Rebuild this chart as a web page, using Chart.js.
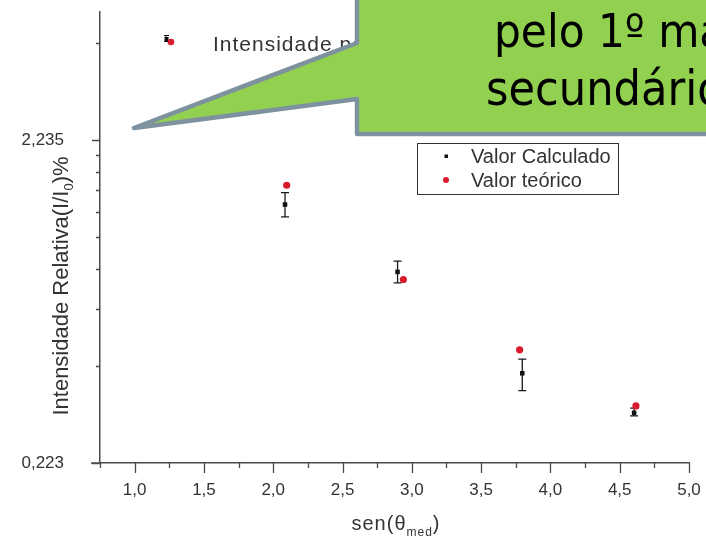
<!DOCTYPE html>
<html>
<head>
<meta charset="utf-8">
<script src="https://cdn.jsdelivr.net/npm/chart.js@4.4.1/dist/chart.umd.min.js"></script>
<style>
html,body{margin:0;padding:0;background:#fff;}
#wrap{position:relative;width:706px;height:542px;overflow:hidden;background:#fff;}
#c{position:absolute;left:0;top:0;}
#callout{position:absolute;left:0;top:0;pointer-events:none;}
</style>
</head>
<body>
<div id="wrap">
<canvas id="c" width="706" height="542"></canvas>
<svg id="callout" width="706" height="542" xmlns="http://www.w3.org/2000/svg">
  <polygon points="357,-10 357,43 134,128 357,99 357,134 730,134 730,-10" fill="#92D050" stroke="#7D929E" stroke-width="4.5" stroke-linejoin="round"/>
  <text x="494" y="47" font-family="'DejaVu Sans Condensed','DejaVu Sans',sans-serif" font-stretch="condensed" font-size="47" fill="#000">pelo 1º ma</text>
  <text x="486" y="105" font-family="'DejaVu Sans Condensed','DejaVu Sans',sans-serif" font-stretch="condensed" font-size="48" fill="#000">secundário</text>
</svg>
</div>
<script>
// ---- data ----
const seriesNames = ['Valor Calculado', 'Valor teórico'];
const calcX = [2.085, 2.897, 3.797, 4.604];
const calcY = [1.410, 0.872, 0.423, 0.319];
const calcErrLow = [1.291, 0.806, 0.374, 0.312];
const calcErrHigh = [1.536, 0.941, 0.468, 0.330];
const teoX = [2.097, 2.939, 3.778, 4.617];
const teoY = [1.618, 0.826, 0.500, 0.335];

const xMajorTicks = [1.0, 1.5, 2.0, 2.5, 3.0, 3.5, 4.0, 4.5, 5.0];
const xTickLabels = ['1,0', '1,5', '2,0', '2,5', '3,0', '3,5', '4,0', '4,5', '5,0'];
const xMinorTicks = [0.75, 1.25, 1.75, 2.25, 2.75, 3.25, 3.75, 4.25, 4.75];
const yMajorTicks = [0.223, 2.235];
const yTickLabels = ['0,223', '2,235'];
const yMinorTicks = [0.446, 0.669, 0.892, 1.115, 1.338, 1.561, 1.784, 2.007, 4.47];
const xRange = [0.75, 5.0];
const yRange = [0.223, 5.57];

const topLegendText = 'Intensidade pe';
const xTitle = ['sen(θ', 'med', ')'];
const yTitle = ['Intensidade Relativa(I/I', '0', ')%'];

const FONT = "'Liberation Sans', Arial, sans-serif";
const TXT = '#333';
const AX = '#4a4a4a';

function findLabel(list, labels, v) {
  for (let i = 0; i < list.length; i++) if (Math.abs(list[i] - v) < 1e-9) return labels[i];
  return '';
}
function zeroPad(s) { s.paddingTop = 0; s.paddingBottom = 0; s.paddingLeft = 0; s.paddingRight = 0; }

const decor = {
  id: 'decor',
  beforeDatasetsDraw(chart) {
    const ctx = chart.ctx, x = chart.scales.x, y = chart.scales.y;
    ctx.save();
    ctx.strokeStyle = '#1a1a1a';
    ctx.lineWidth = 1.3;
    for (let i = 0; i < calcX.length; i++) {
      const px = x.getPixelForValue(calcX[i]);
      const p1 = y.getPixelForValue(calcErrLow[i]);
      const p2 = y.getPixelForValue(calcErrHigh[i]);
      ctx.beginPath();
      ctx.moveTo(px, p1); ctx.lineTo(px, p2);
      ctx.moveTo(px - 4, p1); ctx.lineTo(px + 4, p1);
      ctx.moveTo(px - 4, p2); ctx.lineTo(px + 4, p2);
      ctx.stroke();
    }
    ctx.restore();
  },
  afterDraw(chart) {
    const ctx = chart.ctx, x = chart.scales.x, y = chart.scales.y;
    const ca = chart.chartArea;
    ctx.save();
    // tick marks
    ctx.strokeStyle = AX;
    ctx.lineWidth = 1.3;
    ctx.beginPath();
    xMajorTicks.forEach(v => { const p = Math.round(x.getPixelForValue(v)) + 0.5; ctx.moveTo(p, ca.bottom); ctx.lineTo(p, ca.bottom + 10); });
    xMinorTicks.forEach(v => { const p = Math.round(x.getPixelForValue(v)) + 0.5; ctx.moveTo(p, ca.bottom); ctx.lineTo(p, ca.bottom + 5); });
    yMajorTicks.forEach(v => { const p = Math.round(y.getPixelForValue(v)) + 0.5; ctx.moveTo(ca.left, p); ctx.lineTo(ca.left - 8, p); });
    yMinorTicks.forEach(v => { const p = Math.round(y.getPixelForValue(v)) + 0.5; ctx.moveTo(ca.left, p); ctx.lineTo(ca.left - 4, p); });
    // x axis extension to the left of the y axis
    ctx.moveTo(ca.left - 9, ca.bottom); ctx.lineTo(ca.left, ca.bottom);
    ctx.stroke();

    // legend box
    const ds0 = chart.data.datasets[0], ds1 = chart.data.datasets[1];
    ctx.strokeStyle = '#333';
    ctx.lineWidth = 1;
    ctx.strokeRect(417.5, 143.5, 201, 51);
    ctx.fillStyle = ds0.backgroundColor;
    ctx.fillRect(444.5, 154.5, 3.5, 3.5);
    ctx.fillStyle = ds1.backgroundColor;
    ctx.beginPath(); ctx.arc(446, 180, 3, 0, Math.PI * 2); ctx.fill();
    ctx.fillStyle = TXT;
    ctx.font = '20px ' + FONT;
    ctx.textAlign = 'left';
    ctx.textBaseline = 'middle';
    ctx.fillText(ds0.label, 471, 157);
    ctx.fillText(ds1.label, 471, 181);

    // top-left legend entry (partly hidden by the callout)
    ctx.strokeStyle = '#111';
    ctx.lineWidth = 1;
    ctx.beginPath();
    ctx.moveTo(166, 35); ctx.lineTo(166, 42);
    ctx.moveTo(164, 35.5); ctx.lineTo(169, 35.5);
    ctx.moveTo(164, 41.5); ctx.lineTo(169, 41.5);
    ctx.stroke();
    ctx.fillStyle = '#111';
    ctx.fillRect(164.5, 37, 4, 4);
    ctx.fillStyle = ds1.backgroundColor;
    ctx.beginPath(); ctx.arc(171, 42, 3.3, 0, Math.PI * 2); ctx.fill();
    ctx.fillStyle = TXT;
    ctx.font = '21px ' + FONT;
    try { ctx.letterSpacing = '1px'; } catch (e) {}
    ctx.fillText(topLegendText, 213, 45);

    // x axis title with subscript
    ctx.textBaseline = 'alphabetic';
    ctx.font = '20px ' + FONT;
    const big = 20, small = 12;
    const w0 = ctx.measureText(xTitle[0]).width;
    const w2 = ctx.measureText(xTitle[2]).width;
    ctx.font = small + 'px ' + FONT;
    const w1 = ctx.measureText(xTitle[1]).width;
    let sx = 396 - (w0 + w1 + w2) / 2;
    const by = 530;
    ctx.font = big + 'px ' + FONT;
    ctx.fillText(xTitle[0], sx, by); sx += w0;
    ctx.font = small + 'px ' + FONT;
    ctx.fillText(xTitle[1], sx, by + 6); sx += w1;
    ctx.font = big + 'px ' + FONT;
    ctx.fillText(xTitle[2], sx, by);

    // y axis title (rotated) with subscript
    try { ctx.letterSpacing = '0px'; } catch (e) {}
    ctx.translate(68, 286);
    ctx.rotate(-Math.PI / 2);
    ctx.font = '22px ' + FONT;
    const u0 = ctx.measureText(yTitle[0]).width;
    const u2 = ctx.measureText(yTitle[2]).width;
    ctx.font = '13px ' + FONT;
    const u1 = ctx.measureText(yTitle[1]).width;
    let tx = -(u0 + u1 + u2) / 2;
    ctx.font = '22px ' + FONT;
    ctx.fillText(yTitle[0], tx, 0); tx += u0;
    ctx.font = '13px ' + FONT;
    ctx.fillText(yTitle[1], tx, 5); tx += u1;
    ctx.font = '22px ' + FONT;
    ctx.fillText(yTitle[2], tx, 0);
    ctx.restore();
  }
};

const calcData = calcX.map((v, i) => ({ x: v, y: calcY[i] }));
const teoData = teoX.map((v, i) => ({ x: v, y: teoY[i] }));

new Chart(document.getElementById('c'), {
  type: 'scatter',
  data: {
    datasets: [
      { label: seriesNames[0], data: calcData, pointStyle: 'rect', pointRadius: 3.2, pointHoverRadius: 3.2,
        backgroundColor: '#111111', borderColor: '#111111', borderWidth: 0, order: 2 },
      { label: seriesNames[1], data: teoData, pointStyle: 'circle', pointRadius: 3.6, pointHoverRadius: 3.6,
        backgroundColor: '#DA1B2D', borderColor: '#DA1B2D', borderWidth: 0, order: 1 }
    ]
  },
  options: {
    responsive: false,
    animation: false,
    devicePixelRatio: 1,
    layout: { padding: { top: 12, right: 17, left: 0, bottom: 0 } },
    plugins: { legend: { display: false }, tooltip: { enabled: false } },
    scales: {
      x: {
        type: 'linear', position: 'bottom', min: xRange[0], max: xRange[1],
        afterBuildTicks: s => { s.ticks = xMinorTicks.concat(xMajorTicks).sort((a, b) => a - b).map(v => ({ value: v })); },
        afterFit: s => { s.height = 79; zeroPad(s); },
        grid: { display: true, drawOnChartArea: false, drawTicks: false },
        border: { display: true, color: AX, width: 1.5 },
        ticks: { autoSkip: false, maxRotation: 0, padding: 17, color: TXT, font: { family: FONT, size: 17 },
          callback: v => findLabel(xMajorTicks, xTickLabels, v) }
      },
      y: {
        type: 'logarithmic', position: 'left', min: yRange[0], max: yRange[1],
        afterBuildTicks: s => { s.ticks = yMinorTicks.concat(yMajorTicks).sort((a, b) => a - b).map(v => ({ value: v })); },
        afterFit: s => { s.width = 100; zeroPad(s); },
        grid: { display: true, drawOnChartArea: false, drawTicks: false },
        border: { display: true, color: AX, width: 1.5 },
        ticks: { autoSkip: false, padding: 36, color: TXT, font: { family: FONT, size: 17 },
          callback: v => findLabel(yMajorTicks, yTickLabels, v) }
      }
    }
  },
  plugins: [decor]
});
</script>
</body>
</html>
